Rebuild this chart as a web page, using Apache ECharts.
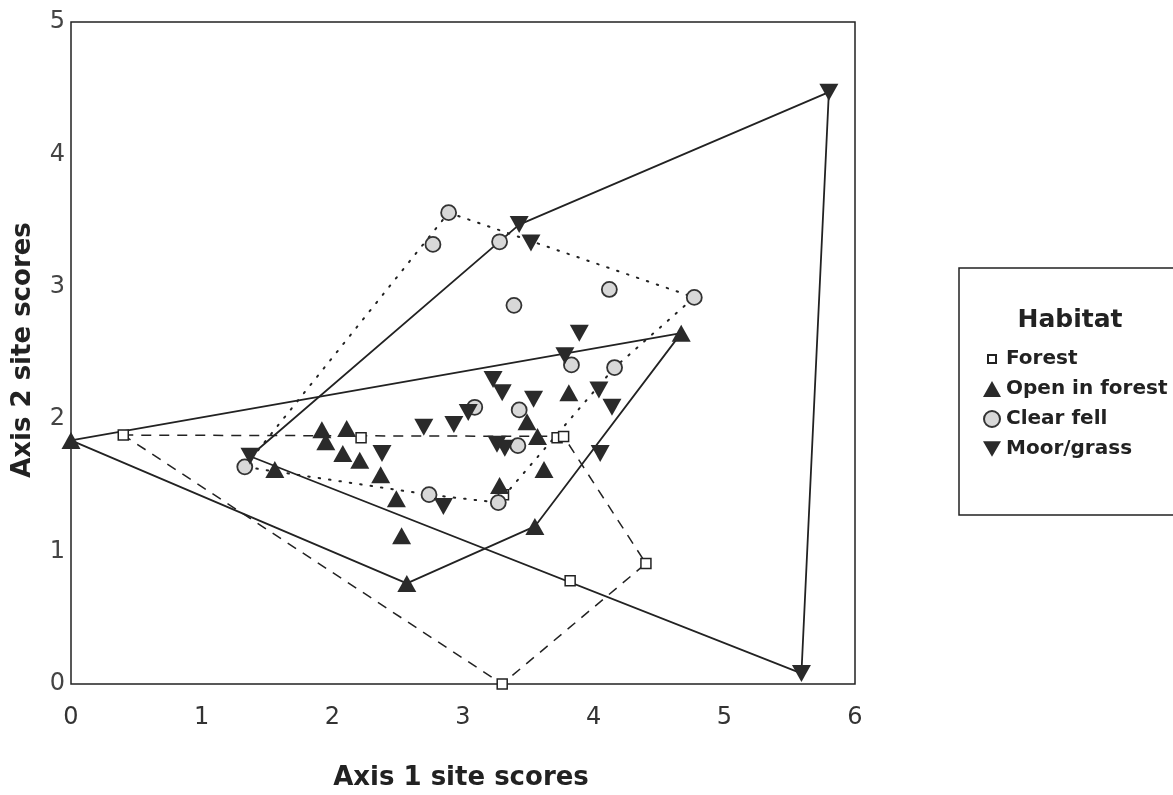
<!DOCTYPE html>
<html>
<head>
<meta charset="utf-8">
<script src="https://cdn.jsdelivr.net/npm/echarts@6/dist/echarts.min.js"></script>
<style>
html,body{margin:0;padding:0;background:#fff;}
#chart{width:1173px;height:795px;}
</style>
</head>
<body>
<div id="chart"></div>
<script>
// ---- Data ----
const xTicks = [0, 1, 2, 3, 4, 5, 6];
const yTicks = [0, 1, 2, 3, 4, 5];
const seriesNames = ['Forest', 'Open in forest', 'Clear fell', 'Moor/grass'];

const forest = [
  [0.40, 1.88], [2.22, 1.86], [3.72, 1.86], [3.77, 1.87],
  [3.82, 0.78], [4.40, 0.91], [3.30, 0.00], [3.31, 1.43]
];
const forestHull = [0, 3, 5, 6, 0];

const openForest = [
  [0.00, 1.84], [2.57, 0.76], [3.55, 1.19], [4.67, 2.65],
  [1.56, 1.62], [1.92, 1.92], [2.11, 1.93], [1.95, 1.83], [2.08, 1.74],
  [2.21, 1.69], [2.37, 1.58], [2.49, 1.40], [2.53, 1.12],
  [3.28, 1.50], [3.62, 1.62], [3.81, 2.20], [3.49, 1.98], [3.57, 1.87]
];
const openForestHull = [0, 1, 2, 3, 0];

const clearFell = [
  [1.33, 1.64], [2.89, 3.56], [2.77, 3.32], [3.28, 3.34], [3.39, 2.86],
  [4.12, 2.98], [4.77, 2.92], [3.83, 2.41], [4.16, 2.39], [3.09, 2.09],
  [3.43, 2.07], [3.42, 1.80], [2.74, 1.43], [3.27, 1.37]
];
const clearFellHull = [0, 1, 6, 8, 13, 12, 0];

const moorGrass = [
  [1.37, 1.72], [3.43, 3.47], [5.80, 4.47], [5.59, 0.08],
  [3.52, 3.33], [3.89, 2.65], [3.78, 2.48], [3.23, 2.30], [3.30, 2.20],
  [3.04, 2.05], [4.04, 2.22], [4.14, 2.09], [3.54, 2.15], [3.26, 1.81],
  [3.32, 1.78], [4.05, 1.74], [2.70, 1.94], [2.93, 1.96], [2.38, 1.74], [2.85, 1.34]
];
const moorGrassHull = [0, 1, 2, 3, 0];

// ---- Chart ----
const FONT = '"DejaVu Sans", Verdana, sans-serif';
const hullOf = (pts, idx) => idx.map(i => pts[i]);
const DOWN_TRI = 'path://M0,0L20,0L10,17Z';

const chart = echarts.init(document.getElementById('chart'), null, {renderer: 'canvas'});

const lineBase = {
  type: 'line', showSymbol: false, symbol: 'none', silent: true, z: 1,
  animation: false
};

chart.setOption({
  animation: false,
  backgroundColor: '#fff',
  grid: {
    left: 71, top: 22, width: 784, height: 662,
    show: true, borderColor: '#222', borderWidth: 1.5, backgroundColor: 'transparent'
  },
  xAxis: {
    type: 'value', min: xTicks[0], max: xTicks[xTicks.length - 1], interval: 1,
    axisLine: {show: false}, axisTick: {show: false}, splitLine: {show: false},
    axisLabel: {fontSize: 24, color: '#333', margin: 22, fontFamily: FONT}
  },
  yAxis: {
    type: 'value', min: yTicks[0], max: yTicks[yTicks.length - 1], interval: 1,
    axisLine: {show: false}, axisTick: {show: false}, splitLine: {show: false},
    axisLabel: {fontSize: 24, color: '#444', margin: 6, fontFamily: FONT}
  },
  legend: {
    orient: 'vertical', left: 978, top: 344,
    itemWidth: 18, itemHeight: 16, itemGap: 10,
    textStyle: {fontSize: 20, fontWeight: 'bold', color: '#222', fontFamily: FONT, lineHeight: 20},
    data: [
      {name: seriesNames[0], icon: 'path://M0,0M20,20M5,5L15,5L15,15L5,15Z'},
      {name: seriesNames[1]},
      {name: seriesNames[2]},
      {name: seriesNames[3]}
    ]
  },
  graphic: [
    {
      type: 'rect', silent: true,
      shape: {x: 959, y: 268, width: 240, height: 247},
      style: {fill: 'none', stroke: '#222', lineWidth: 1.5}
    },
    {
      type: 'text', silent: true, x: 1070, y: 320,
      style: {text: 'Habitat', font: 'bold 25px ' + FONT, fill: '#222',
              textAlign: 'center', textVerticalAlign: 'middle'}
    },
    {
      type: 'text', silent: true, x: 461, y: 778,
      style: {text: 'Axis 1 site scores', font: 'bold 26px ' + FONT, fill: '#222',
              textAlign: 'center', textVerticalAlign: 'middle'}
    },
    {
      type: 'text', silent: true, x: 23, y: 350, rotation: Math.PI / 2,
      style: {text: 'Axis 2 site scores', font: 'bold 26px ' + FONT, fill: '#222',
              textAlign: 'center', textVerticalAlign: 'middle'}
    }
  ],
  series: [
    Object.assign({}, lineBase, {
      name: 'Forest hull', data: hullOf(forest, forestHull),
      lineStyle: {color: '#222', width: 1.5, type: [10, 8]}
    }),
    Object.assign({}, lineBase, {
      name: 'Open hull', data: hullOf(openForest, openForestHull),
      lineStyle: {color: '#222', width: 1.8, type: 'solid'}
    }),
    Object.assign({}, lineBase, {
      name: 'Clear fell hull', data: hullOf(clearFell, clearFellHull),
      lineStyle: {color: '#222', width: 2, type: [1.5, 9], cap: 'round'}
    }),
    Object.assign({}, lineBase, {
      name: 'Moor hull', data: hullOf(moorGrass, moorGrassHull),
      lineStyle: {color: '#222', width: 1.8, type: 'solid'}
    }),
    {
      name: seriesNames[0], type: 'scatter', data: forest, z: 3,
      symbol: 'rect', symbolSize: 10,
      itemStyle: {color: '#fff', borderColor: '#222', borderWidth: 1.5, opacity: 1}
    },
    {
      name: seriesNames[1], type: 'scatter', data: openForest, z: 3,
      symbol: 'triangle', symbolSize: [19, 17],
      itemStyle: {color: '#2a2a2a', opacity: 1}
    },
    {
      name: seriesNames[2], type: 'scatter', data: clearFell, z: 3,
      symbol: 'circle', symbolSize: 15,
      itemStyle: {color: '#d8d8d8', borderColor: '#333', borderWidth: 1.8, opacity: 1}
    },
    {
      name: seriesNames[3], type: 'scatter', data: moorGrass, z: 3,
      symbol: DOWN_TRI, symbolSize: [19, 17],
      itemStyle: {color: '#2a2a2a', opacity: 1}
    }
  ]
});
</script>
</body>
</html>
